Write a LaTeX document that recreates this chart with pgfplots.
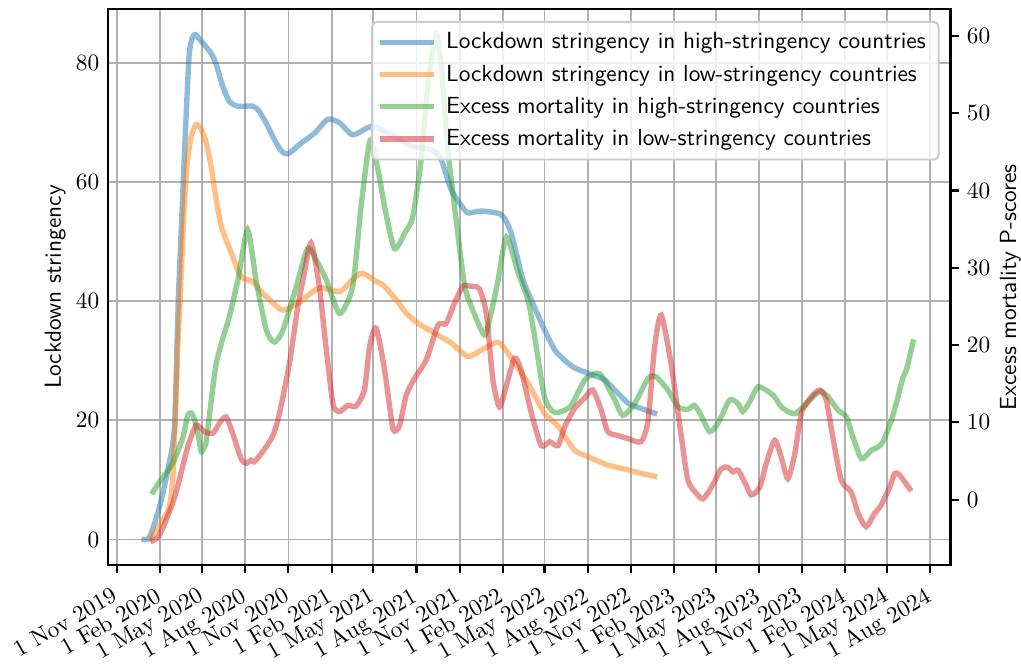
\documentclass[border=0pt]{standalone}
\usepackage{pgfplots}
\pgfplotsset{compat=1.18}
\usepackage{pgfplotstable}

\definecolor{tabblue}{HTML}{1F77B4}
\definecolor{taborange}{HTML}{FF7F0E}
\definecolor{tabgreen}{HTML}{2CA02C}
\definecolor{tabred}{HTML}{D62728}

% x = days since 1 Jan 2020
\pgfplotstableread{
d L
-3 0
9 0.4
30 5.5
50 12.5
62 19
70 40
78 55
85 68
93 81
100 84.2
107 84.7
120 83.5
140 81.6
151 79.7
165 76
179 73.5
197 72.7
229 72.7
243 71.8
260 69.5
275 67.1
290 65.2
304 64.7
332 66.5
361 68.2
389 70.5
414 69.9
442 67.9
474 69.1
489 69.3
524 67.9
567 66.0
610 65.4
631 63.7
652 58.7
674 56.0
688 54.8
716 55.1
759 54.5
780 51.4
805 43.6
823 40.2
851 35.2
873 31.8
895 30.0
915 28.8
944 27.9
979 26.8
1001 25.1
1029 22.9
1057 22.0
1086 21.2
}\highstr

\pgfplotstableread{
d L
12 0.2
35 3
51 5.5
58 10
62 16.7
66 25
69 32.4
76 43.6
82 55
89 63
97 67.5
108 69.6
119 68.8
130 66.5
140 62.6
150 57.5
162 52.5
183 48.1
204 44.1
229 43.3
243 41.9
261 40.5
293 38.5
329 39.9
371 42.2
414 41.6
442 43.6
462 44.7
492 43.3
507 42.7
535 40.2
556 38.0
581 36.3
617 34.6
652 33.0
688 30.7
723 32.1
752 33.1
773 31.3
816 26.2
851 21.2
880 19.0
915 15.0
944 13.9
986 12.5
1029 11.7
1057 11.1
1086 10.6
}\lowstr

\pgfplotstableread{
d R
16 1.0
30 2.3
58 4.7
80 8.1
90 10.9
98 11.2
105 10.3
112 8.5
119 6.2
125 6.8
130 7.7
151 17.6
179 23.7
197 28.4
218 34.9
236 28.4
258 21.9
275 20.4
293 21.9
322 27.6
346 32.5
368 30.6
386 28.4
414 24.1
442 27.6
460 38.0
479 46.5
495 43.0
510 37.9
531 32.5
553 34.5
570 36.6
588 44.0
603 54.0
620 60.2
631 56.0
645 45.3
666 34.5
681 27.6
695 25.0
723 21.3
737 24.1
752 28.4
770 34.0
794 29.5
816 25.8
830 21.1
851 13.3
869 11.4
887 11.4
908 12.2
937 15.5
958 16.3
972 16.1
1001 12.9
1018 10.9
1043 12.4
1072 15.7
1089 15.9
1114 14.2
1136 12.0
1157 11.7
1171 12.2
1185 10.9
1203 8.8
1221 9.9
1246 12.9
1264 12.4
1274 11.4
1289 12.7
1306 14.6
1328 14.0
1342 13.3
1356 12.0
1377 11.2
1388 11.2
1406 12.2
1427 13.5
1441 14.0
1456 13.3
1477 11.6
1495 10.7
1509 8.1
1527 5.3
1548 6.4
1562 6.8
1573 7.5
1591 10.3
1601 12.4
1616 15.9
1623 16.8
1637 20.4
}\highmort

\pgfplotstableread{
d R
16 -5.3
30 -4.6
58 -0.5
72 2.5
90 6.8
108 9.6
126 8.8
144 8.6
158 9.9
172 10.7
186 8.6
204 5.3
215 4.7
225 5.1
232 4.9
250 6.2
272 8.3
286 11.2
307 17.6
325 25.0
336 28.4
353 33.2
371 27.5
385 19.8
400 12.4
414 11.4
432 12.2
449 12.1
467 14.2
478 19.8
492 22.2
510 16.8
528 9.2
542 9.6
556 13.5
574 15.7
599 18.1
624 22.6
641 22.8
659 25.4
677 27.6
695 27.6
712 27.3
727 24.1
741 15.5
755 12.0
769 14.6
787 18.3
801 16.8
823 11.2
844 7.0
862 7.5
880 7.0
894 9.4
915 11.8
936 13.1
954 14.2
972 11.6
986 8.8
1008 8.3
1029 7.9
1057 7.5
1072 10.3
1086 19.8
1100 23.9
1121 17.6
1143 8.1
1157 2.5
1175 0.8
1189 0.1
1207 1.6
1228 4.0
1242 4.2
1253 3.6
1264 3.8
1281 1.9
1292 0.6
1310 1.6
1324 4.7
1342 7.7
1356 5.5
1370 2.7
1385 6.0
1399 11.2
1420 13.3
1438 14.2
1452 12.9
1466 8.1
1484 2.5
1505 1.0
1520 -1.8
1537 -3.5
1555 -1.8
1569 -0.7
1587 1.6
1598 3.4
1608 3.2
1630 1.4
}\lowmort

\pgfplotsset{
  twin/.style={
    width=361pt, height=238pt, scale only axis,
    xmin=-80, xmax=1717,
    tick align=outside,
    major tick length=3.5pt,
    axis line style={line width=0.9pt},
    every tick/.style={black, line width=0.9pt},
    tick label style={font=\normalsize},
    label style={font=\sffamily\normalsize},
  },
  curve/.style={smooth, tension=0.4, line width=2.3pt, opacity=0.5, line cap=rect},
}

\begin{document}
\begin{tikzpicture}

\begin{axis}[
  twin,
  name=ax,
  ymin=-4.24, ymax=88.95,
  xtick={-61,31,121,213,305,397,486,578,670,762,851,943,1035,1127,1216,1308,1400,1492,1582,1674},
  xticklabels={1 Nov 2019,1 Feb 2020,1 May 2020,1 Aug 2020,1 Nov 2020,1 Feb 2021,1 May 2021,1 Aug 2021,1 Nov 2021,1 Feb 2022,1 May 2022,1 Aug 2022,1 Nov 2022,1 Feb 2023,1 May 2023,1 Aug 2023,1 Nov 2023,1 Feb 2024,1 May 2024,1 Aug 2024},
  xticklabel style={rotate=30, anchor=north east, inner sep=0pt, xshift=-4.8pt, yshift=-3.5pt},
  ytick={0,20,40,60,80},
  xtick pos=bottom,
  ytick pos=left,
  ytick style={draw=none},
  yticklabel style={inner xsep=0pt},
  grid=major,
  grid style={black!31, line width=0.8pt},
  ylabel={Lockdown stringency},
  ylabel style={at={(rel axis cs:0,0.5)}, anchor=center, inner sep=0pt, yshift=22.6pt},
]
\addplot[curve, tabblue] table[x=d, y=L] {\highstr};
\addplot[curve, taborange] table[x=d, y=L] {\lowstr};
\end{axis}

\begin{axis}[
  twin,
  ymin=-8.43, ymax=63.45,
  axis x line=none,
  axis y line*=right,
  ytick={0,10,20,30,40,50,60},
  ylabel={Excess mortality P-scores},
  ylabel style={at={(rel axis cs:1,0.5)}, anchor=center, inner sep=0pt, yshift=-25.7pt},
  legend cell align=left,
  legend image code/.code={\draw[#1, line cap=rect] (0pt,0pt) -- (21pt,0pt);},
  legend style={
    at={(1,1)}, anchor=north east, xshift=-4.7pt, yshift=-5pt,
    draw=black!20, line width=0.8pt, fill=white,
    fill opacity=0.8, draw opacity=1, text opacity=1,
    rounded corners=2pt,
    font=\sffamily\normalsize,
    inner xsep=3.5pt, inner ysep=2pt,
    nodes={inner ysep=2.65pt, inner xsep=2pt},
    row sep=0pt,
    /tikz/every odd column/.append style={column sep=3pt},
  },
]
\addlegendimage{tabblue, line width=2.3pt, opacity=0.5}
\addlegendentry{Lockdown stringency in high-stringency countries}
\addlegendimage{taborange, line width=2.3pt, opacity=0.5}
\addlegendentry{Lockdown stringency in low-stringency countries}
\addplot[curve, tabgreen] table[x=d, y=R] {\highmort};
\addlegendentry{Excess mortality in high-stringency countries}
\addplot[curve, tabred] table[x=d, y=R] {\lowmort};
\addlegendentry{Excess mortality in low-stringency countries}
\end{axis}

\path ([yshift=4pt]ax.north);
\path (current bounding box.west) ++(-5pt,0);
\end{tikzpicture}
\end{document}
